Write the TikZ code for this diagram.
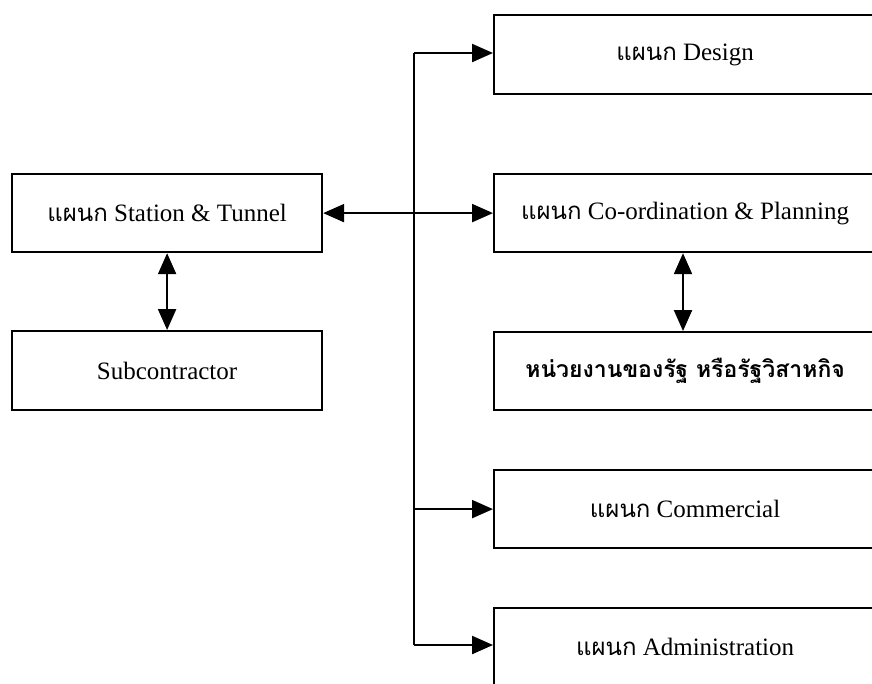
\documentclass[tikz,border=0pt]{standalone}
\usepackage{fontspec}
\setmainfont{Liberation Serif}
\newfontfamily\thaifont[Script=Thai]{Loma}
\usetikzlibrary{arrows.meta}
\tikzset{
  box/.style={draw, line width=2.2pt, rectangle, inner sep=0pt, anchor=north west,
              font=\fontsize{25}{28}\selectfont},
  link/.style={line width=2.2pt, -{Triangle[length=21pt,width=18pt]}},
  dlink/.style={line width=2.2pt, {Triangle[length=21pt,width=18pt]}-{Triangle[length=21pt,width=18pt]}},
}
\newcommand{\pn}{{\thaifont\fontsize{24}{28}\selectfont แผนก}}
\begin{document}
\begin{tikzpicture}[x=1pt,y=-1pt]
  \useasboundingbox (0,0) rectangle (872,683);
  \clip (0,0) rectangle (872,683);
  \fill[white] (0,0) rectangle (872,683);

  % left column
  \node[box, minimum width=310pt, minimum height=78pt] (st) at (11,173) {\pn\ Station \& Tunnel};
  \node[box, minimum width=310pt, minimum height=79pt] (sub) at (11,330) {Subcontractor};

  % right column (boxes run past the right edge)
  \node[box, minimum width=382pt, minimum height=79pt] (des) at (493,14) {\pn\ Design};
  \node[box, minimum width=382pt, minimum height=78pt] (coo) at (493,173) {\pn\ Co-ordination \& Planning};
  \node[box, minimum width=382pt, minimum height=78pt] (gov) at (493,331)
    {\thaifont\bfseries\fontsize{23}{28}\selectfont หน่วยงานของรัฐ หรือรัฐวิสาหกิจ};
  \node[box, minimum width=382pt, minimum height=78pt] (com) at (493,469) {\pn\ Commercial};
  \node[box, minimum width=382pt, minimum height=78pt] (adm) at (493,607) {\pn\ Administration};

  % distribution bus
  \coordinate (bt) at (414,53);
  \coordinate (bb) at (414,645);
  \draw[line width=2.2pt] (bt) -- (bb);
  \draw[link] (bt) -- (des.west |- bt);
  \draw[dlink] (st.east) -- (coo.west);
  \draw[link] (bb) -- (adm.west |- bb);
  \draw[link] (com.west -| bt) -- (com.west);

  % vertical pairs
  \draw[dlink] (st.south) -- (sub.north);
  \draw[dlink] (coo.south -| 683,0) -- (gov.north -| 683,0);
\end{tikzpicture}
\end{document}
